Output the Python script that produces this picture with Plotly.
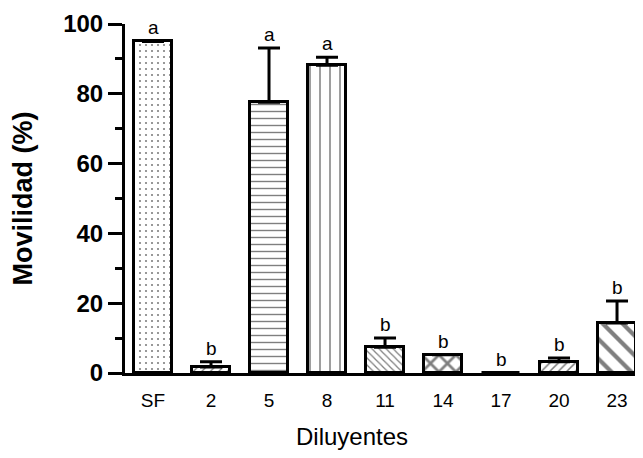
import plotly.graph_objects as go

categories = ["SF", "2", "5", "8", "11", "14", "17", "20", "23"]
values = [95.0, 1.7, 77.6, 88.2, 7.4, 5.2, 0.0, 3.2, 14.3]
errors = [0.0, 1.5, 15.5, 2.3, 2.6, 0.0, 0.0, 1.1, 6.3]
letters = ["a", "b", "a", "a", "b", "b", "b", "b", "b"]

shapes = [".", "/", "-", "|", "\\", "x", "", "/", "\\"]
sizes = [6, 6, 7, 10, 5, 12, 6, 6, 14]
solid = [0.1, 0.22, 0.2, 0.15, 0.25, 0.4, 0.2, 0.25, 0.3]

xpos = list(range(len(categories)))

fig = go.Figure()
fig.add_trace(go.Bar(
    x=xpos, y=values, width=0.67,
    marker=dict(color="white", line=dict(color="black", width=3),
                pattern=dict(shape=shapes, size=sizes, solidity=solid,
                             fgcolor="black", bgcolor="white", fillmode="overlay")),
    error_y=dict(type="data", symmetric=False, array=errors,
                 arrayminus=[0]*len(errors), color="black", thickness=3, width=11,
                 visible=True),
    showlegend=False,
))

annotations = []
for i, (v, e, l) in enumerate(zip(values, errors, letters)):
    annotations.append(dict(x=i, y=v + e, xref="x", yref="y", text=l, showarrow=False,
                            yanchor="bottom", yshift=1,
                            font=dict(family="Liberation Sans", size=19, color="black")))
annotations.append(dict(x=0.438, y=0, xref="paper", yref="paper", text="Diluyentes",
                        showarrow=False, xanchor="center", yanchor="middle", yshift=-63,
                        font=dict(family="Liberation Sans", size=24, color="black")))

fig.update_layout(
    width=635, height=450,
    margin=dict(l=117, r=0, t=16, b=85),
    plot_bgcolor="white", paper_bgcolor="white",
    annotations=annotations,
    bargap=0,
    xaxis=dict(
        range=[-0.483, 8.448], tickmode="array", tickvals=xpos, ticktext=categories,
        showgrid=False, zeroline=False, showline=True, linecolor="black", linewidth=3,
        ticks="", tickfont=dict(family="Liberation Sans", size=19, color="black"),
        ticklabelstandoff=8,
    ),
    yaxis=dict(
        range=[0, 100], tickmode="array", tickvals=[0, 20, 40, 60, 80, 100],
        showgrid=False, zeroline=False, showline=True, linecolor="black", linewidth=3,
        ticks="outside", ticklen=14, tickwidth=3, tickcolor="black",
        minor=dict(tickvals=[10, 30, 50, 70, 90], ticks="outside", ticklen=7, tickwidth=3, tickcolor="black"),
        tickfont=dict(family="Liberation Sans", size=24, color="black", weight="bold"),
        title=dict(text="<b>Movilidad (%)</b>", font=dict(family="Liberation Sans", size=27, color="black"),
                   standoff=24),
    ),
)

fig.write_html("out.html")
